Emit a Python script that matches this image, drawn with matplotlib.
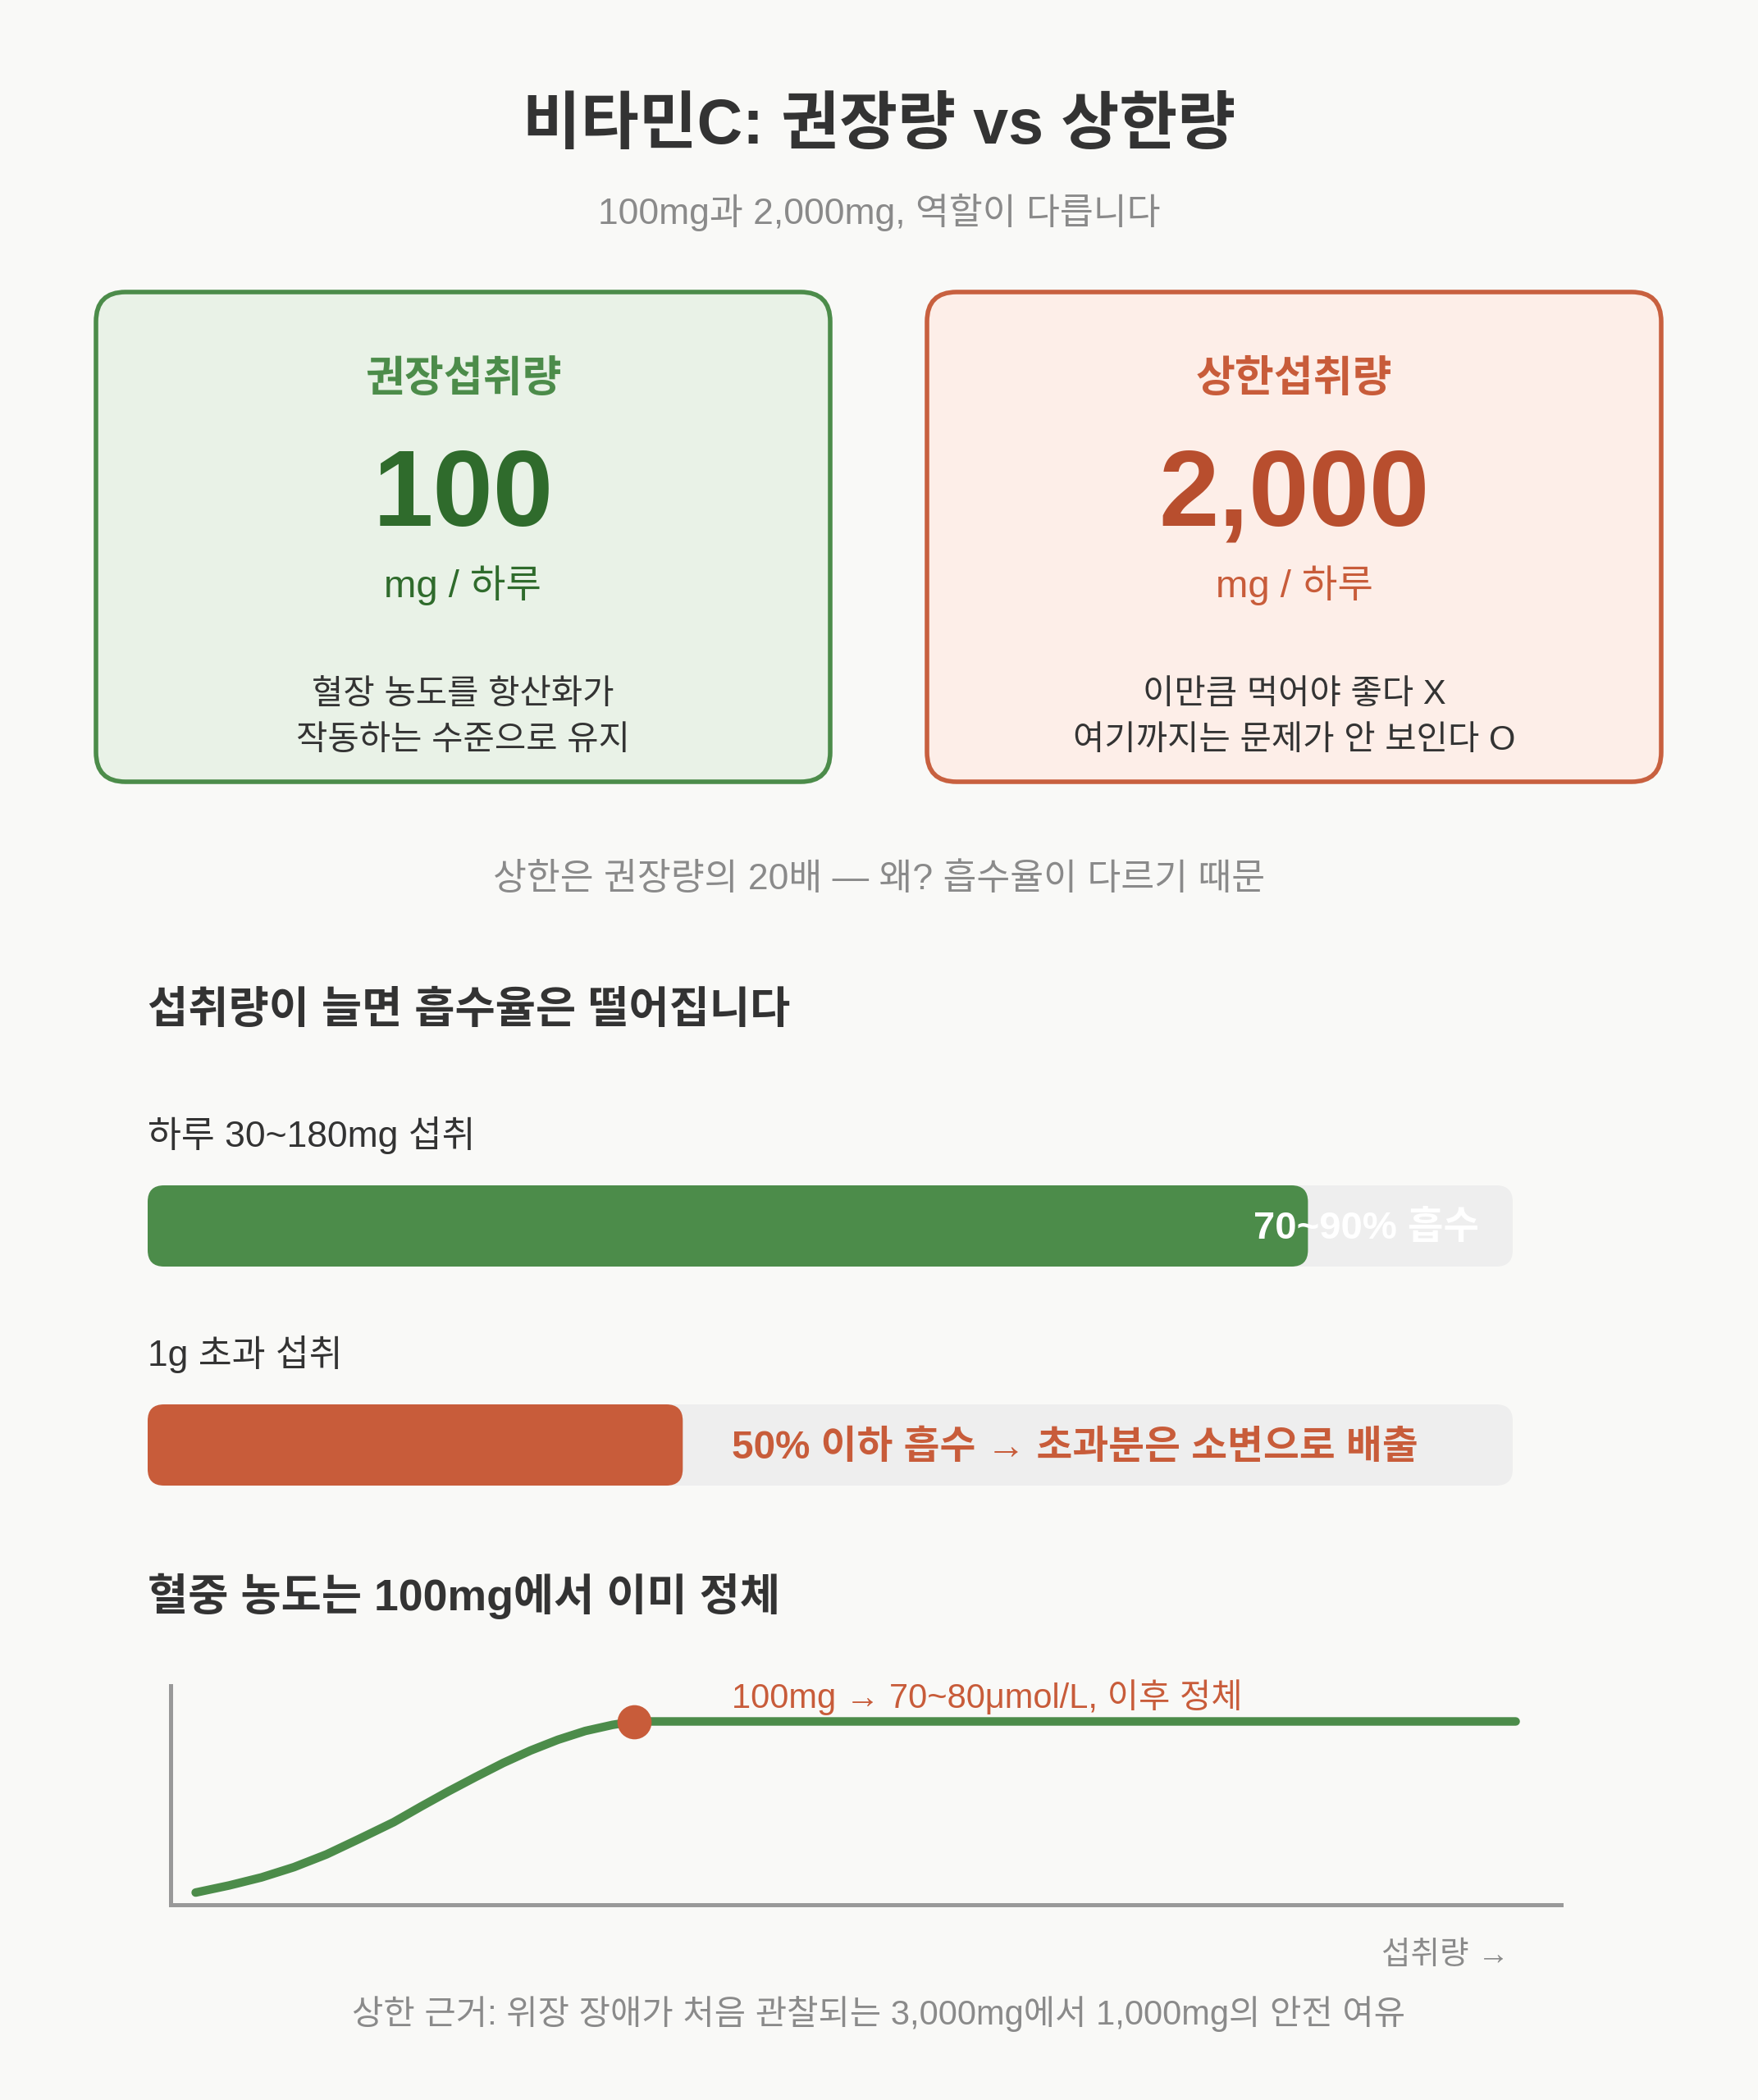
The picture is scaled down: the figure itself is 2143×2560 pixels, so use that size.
import matplotlib
matplotlib.use("Agg")
import matplotlib.pyplot as plt
from matplotlib.patches import FancyBboxPatch

plt.rcParams['font.family'] = ['Liberation Sans', 'Noto Sans CJK KR', 'DejaVu Sans']

# ---- data ----
title = "비타민C: 권장량 vs 상한량"
subtitle = "100mg과 2,000mg, 역할이 다릅니다"

card_labels = ["권장섭취량", "상한섭취량"]
card_values = ["100", "2,000"]
card_units = ["mg / 하루", "mg / 하루"]
card_notes = ["혈장 농도를 항산화가\n작동하는 수준으로 유지",
              "이만큼 먹어야 좋다 X\n여기까지는 문제가 안 보인다 O"]
ratio_note = "상한은 권장량의 20배 — 왜? 흡수율이 다르기 때문"

section1 = "섭취량이 늘면 흡수율은 떨어집니다"
bar_titles = ["하루 30~180mg 섭취", "1g 초과 섭취"]
bar_fracs = [0.85, 0.392]
bar_texts = ["70~90% 흡수", "50% 이하 흡수 → 초과분은 소변으로 배출"]

section2 = "혈중 농도는 100mg에서 이미 정체"
dose_mg = [5.4, 12.6, 19.6, 26.6, 33.6, 40.5, 48.1, 54.0, 59.9, 65.8,
           71.7, 77.6, 83.5, 89.4, 95.3, 100, 290]
plasma = [5.0, 7.9, 11.2, 15.4, 20.6, 26.8, 33.8, 40.2, 46.4, 52.3,
          58.0, 63.1, 67.5, 71.1, 73.6, 75, 75]
plateau_dose = 100
plateau_level = 75
plateau_note = "100mg → 70~80μmol/L, 이후 정체"
x_label = "섭취량 →"
footer = "상한 근거: 위장 장애가 처음 관찰되는 3,000mg에서 1,000mg의 안전 여유"

# ---- colours ----
BG = "#f9f9f7"
DARK = "#333333"
GRAY = "#8a8a8a"
GREEN = "#4c8c4a"
GREEN_DK = "#2f6b2c"
ORANGE = "#c85c3a"
ORANGE_DK = "#b84e2e"
card_edge = [GREEN, "#c8603f"]
card_fill = ["#e9f2e7", "#fdeee8"]
card_lbl = [GREEN, ORANGE]
card_num = [GREEN_DK, ORANGE_DK]
card_unit = [GREEN_DK, ORANGE]

W, H = 2143, 2560
fig = plt.figure(figsize=(W / 100, H / 100), dpi=100)
fig.patch.set_facecolor(BG)
ax = fig.add_axes([0, 0, 1, 1])
ax.set_xlim(0, W)
ax.set_ylim(H, 0)
ax.axis("off")

ax.text(W / 2, 155, title, ha="center", va="center", fontsize=55.5,
        fontweight="bold", color=DARK)
ax.text(W / 2, 259, subtitle, ha="center", va="center", fontsize=32, color=GRAY)

# cards
card_x = [117, 1130]
card_w = 895
for i in range(2):
    x0 = card_x[i]
    ax.add_patch(FancyBboxPatch((x0, 356), card_w, 597,
                                boxstyle="round,pad=0,rounding_size=36",
                                fc=card_fill[i], ec=card_edge[i], lw=4))
    cx = x0 + card_w / 2
    ax.text(cx, 463, card_labels[i], ha="center", va="center", fontsize=37.5,
            fontweight="bold", color=card_lbl[i])
    ax.text(cx, 606, card_values[i], ha="center", va="center", fontsize=95,
            fontweight="bold", color=card_num[i])
    ax.text(cx, 714, card_units[i], ha="center", va="center", fontsize=34,
            color=card_unit[i])
    ax.text(cx, 875, card_notes[i], ha="center", va="center", fontsize=30,
            color=DARK, linespacing=1.5)

ax.text(W / 2, 1072, ratio_note, ha="center", va="center", fontsize=32, color=GRAY)

# absorption bars
ax.text(180, 1233, section1, ha="left", va="center", fontsize=38.5,
        fontweight="bold", color=DARK)
track_x, track_w, bar_h = 180, 1664, 99
bar_y = [1445, 1712]
title_y = [1384, 1651]
bar_col = [GREEN, ORANGE]
for i in range(2):
    ax.text(track_x, title_y[i], bar_titles[i], ha="left", va="center",
            fontsize=32, color=DARK)
    ax.add_patch(FancyBboxPatch((track_x, bar_y[i]), track_w, bar_h,
                                boxstyle="round,pad=0,rounding_size=20",
                                fc="#eeeeee", ec="none"))
    ax.add_patch(FancyBboxPatch((track_x, bar_y[i]), track_w * bar_fracs[i], bar_h,
                                boxstyle="round,pad=0,rounding_size=20",
                                fc=bar_col[i], ec="none"))
ax.text(1803, bar_y[0] + bar_h / 2 + 3, bar_texts[0], ha="right", va="center",
        fontsize=34, fontweight="bold", color="white")
ax.text(892, bar_y[1] + bar_h / 2 + 4, bar_texts[1], ha="left", va="center",
        fontsize=34.3, fontweight="bold", color=ORANGE)

# plasma curve
ax.text(180, 1946, section2, ha="left", va="center", fontsize=38.5,
        fontweight="bold", color=DARK)
cax = fig.add_axes([208 / W, 1 - 2322 / H, (1903 - 208) / W, (2322 - 2055) / H])
cax.set_facecolor("none")
cax.set_xlim(0, 299.8)
cax.set_ylim(0, 89.6)
for s in ["top", "right"]:
    cax.spines[s].set_visible(False)
for s in ["left", "bottom"]:
    cax.spines[s].set_color("#999999")
    cax.spines[s].set_linewidth(3.6)
cax.set_xticks([])
cax.set_yticks([])
cax.plot(dose_mg, plasma, color=GREEN, lw=7.5, solid_capstyle="round",
         solid_joinstyle="round", clip_on=False)
cax.plot([plateau_dose], [plateau_level], "o", color=ORANGE, ms=30, mec="none",
         clip_on=False, zorder=5)

ax.text(892, 2069, plateau_note, ha="left", va="center", fontsize=30, color=ORANGE)
ax.text(1840, 2384, x_label, ha="right", va="center", fontsize=27.8, color=GRAY)
ax.text(W / 2, 2455, footer, ha="center", va="center", fontsize=30, color=GRAY)

fig.savefig("out.png", dpi=100, facecolor=BG)
